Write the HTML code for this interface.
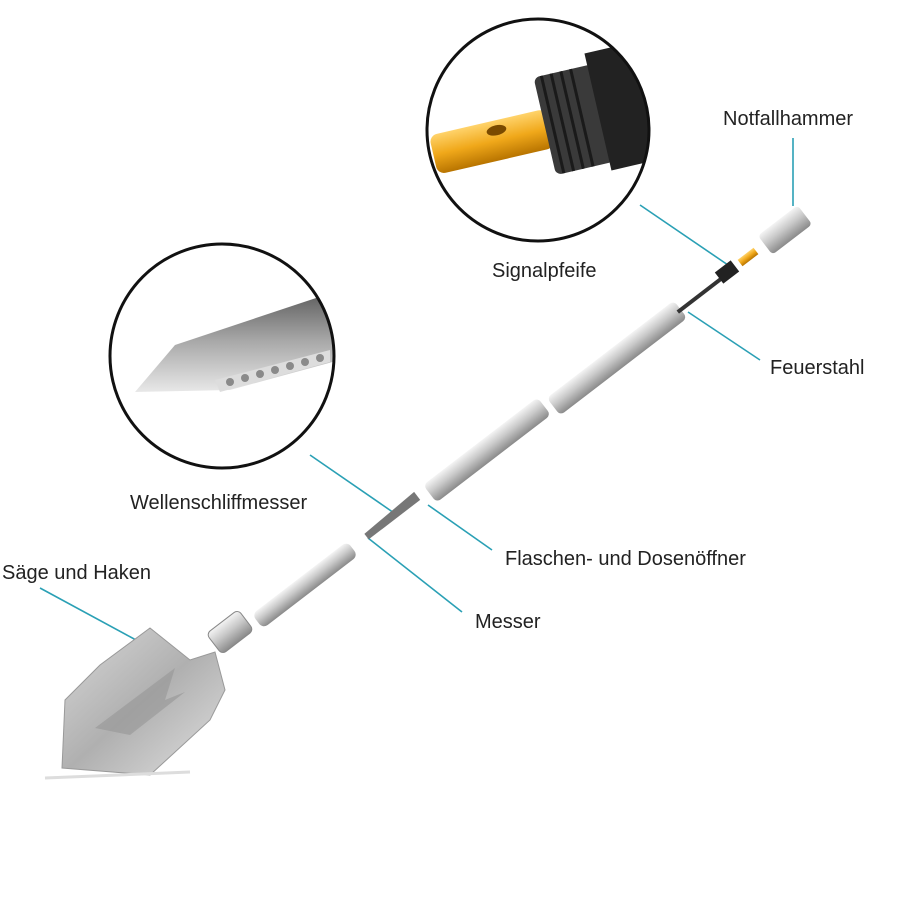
<!DOCTYPE html>
<html><head><meta charset="utf-8"><style>
html,body{margin:0;padding:0;background:#fff;}
svg{display:block;}
text{font-family:"Liberation Sans",sans-serif;font-size:20px;fill:#222;}
</style></head><body>
<svg width="900" height="900" viewBox="0 0 900 900" xmlns="http://www.w3.org/2000/svg">
<defs>
<linearGradient id="metal" x1="0" y1="0" x2="0" y2="1">
<stop offset="0" stop-color="#f4f4f4"/><stop offset="0.45" stop-color="#c9c9c9"/><stop offset="1" stop-color="#8a8a8a"/>
</linearGradient>
<linearGradient id="blade" x1="0" y1="0" x2="1" y2="1">
<stop offset="0" stop-color="#d8d8d8"/><stop offset="0.5" stop-color="#b0b0b0"/><stop offset="1" stop-color="#e0e0e0"/>
</linearGradient>
<linearGradient id="gold" x1="0" y1="0" x2="0" y2="1">
<stop offset="0" stop-color="#ffd36b"/><stop offset="0.5" stop-color="#f0a81a"/><stop offset="1" stop-color="#b87400"/>
</linearGradient>
<linearGradient id="knife" x1="0" y1="0" x2="0" y2="1">
<stop offset="0" stop-color="#5a5a5a"/><stop offset="0.5" stop-color="#a8a8a8"/><stop offset="1" stop-color="#e8e8e8"/>
</linearGradient>
<clipPath id="c1"><circle cx="538" cy="130" r="110"/></clipPath>
<clipPath id="c2"><circle cx="222" cy="356" r="111"/></clipPath>
</defs>

<!-- circle 1 whistle -->
<g clip-path="url(#c1)">
<g transform="rotate(-13 520 130)">
<rect x="430" y="115" width="120" height="40" rx="8" fill="url(#gold)"/>
<ellipse cx="497" cy="125" rx="10" ry="5" fill="#7a4a00"/>
<rect x="545" y="82" width="60" height="100" rx="6" fill="#3a3a3a"/>
<g stroke="#1a1a1a" stroke-width="3">
<line x1="553" y1="82" x2="553" y2="182"/><line x1="563" y1="82" x2="563" y2="182"/>
<line x1="573" y1="82" x2="573" y2="182"/><line x1="583" y1="82" x2="583" y2="182"/>
</g>
<rect x="600" y="70" width="60" height="120" fill="#222"/>
</g>
</g>
<circle cx="538" cy="130" r="111" fill="none" stroke="#111" stroke-width="3"/>

<!-- circle 2 knife -->
<g clip-path="url(#c2)">
<path d="M135 392 L175 345 L340 290 L340 360 L230 390 Z" fill="url(#knife)"/>
<path d="M215 380 L330 350 L330 362 L220 392 Z" fill="#ddd"/>
<g fill="#8a8a8a">
<circle cx="230" cy="382" r="4"/><circle cx="245" cy="378" r="4"/><circle cx="260" cy="374" r="4"/>
<circle cx="275" cy="370" r="4"/><circle cx="290" cy="366" r="4"/><circle cx="305" cy="362" r="4"/><circle cx="320" cy="358" r="4"/>
</g>
</g>
<circle cx="222" cy="356" r="112" fill="none" stroke="#111" stroke-width="3"/>

<!-- leader lines -->
<g stroke="#2aa0b5" stroke-width="1.6" fill="none">
<line x1="793" y1="138" x2="793" y2="206"/>
<line x1="640" y1="205" x2="728" y2="265"/>
<line x1="688" y1="312" x2="760" y2="360"/>
<line x1="310" y1="455" x2="397" y2="515"/>
<line x1="40" y1="588" x2="136" y2="640"/>
<line x1="428" y1="505" x2="492" y2="550"/>
<line x1="368" y1="538" x2="462" y2="612"/>
</g>

<!-- shaft -->
<g>
<g transform="translate(305 585) rotate(-37.5)"><rect x="-60" y="-9" width="120" height="18" rx="6" fill="url(#metal)"/></g>
<g transform="translate(390 518) rotate(-37.5)"><path d="M-30 -3 L35 -6 L35 4 L-30 4 Z" fill="#777"/></g>
<g transform="translate(487 450) rotate(-37.5)"><rect x="-72" y="-11" width="144" height="22" rx="5" fill="url(#metal)"/></g>
<g transform="translate(617 358) rotate(-37.5)"><rect x="-80" y="-11" width="160" height="22" rx="5" fill="url(#metal)"/></g>
<g transform="translate(700 295) rotate(-37.5)"><rect x="-28" y="-2" width="56" height="4" fill="#333"/></g>
<g transform="translate(727 272) rotate(-37.5)"><rect x="-10" y="-7" width="20" height="14" fill="#222"/></g>
<g transform="translate(748 257) rotate(-37.5)"><rect x="-10" y="-4" width="20" height="8" fill="url(#gold)"/></g>
<g transform="translate(785 230) rotate(-37.5)"><rect x="-25" y="-12" width="50" height="24" rx="4" fill="url(#metal)"/></g>
</g>

<!-- shovel -->
<g>
<g transform="translate(230 632) rotate(-37.5)"><rect x="-20" y="-13" width="40" height="26" rx="5" fill="url(#metal)" stroke="#888"/></g>
<path d="M150 628 L190 660 L215 652 L225 690 L210 720 L150 775 L62 768 L65 700 L100 665 Z" fill="url(#blade)" stroke="#999"/>
<path d="M95 728 L175 668 L165 700 L185 692 L130 735 Z" fill="#9a9a9a" opacity="0.7"/>
<path d="M45 778 L190 772" stroke="#ddd" stroke-width="3"/>
</g>

<!-- labels -->
<text x="723" y="125">Notfallhammer</text>
<text x="492" y="277">Signalpfeife</text>
<text x="770" y="374">Feuerstahl</text>
<text x="130" y="509">Wellenschliffmesser</text>
<text x="2" y="579">Säge und Haken</text>
<text x="505" y="565">Flaschen- und Dosenöffner</text>
<text x="475" y="628">Messer</text>
</svg>
</body></html>
